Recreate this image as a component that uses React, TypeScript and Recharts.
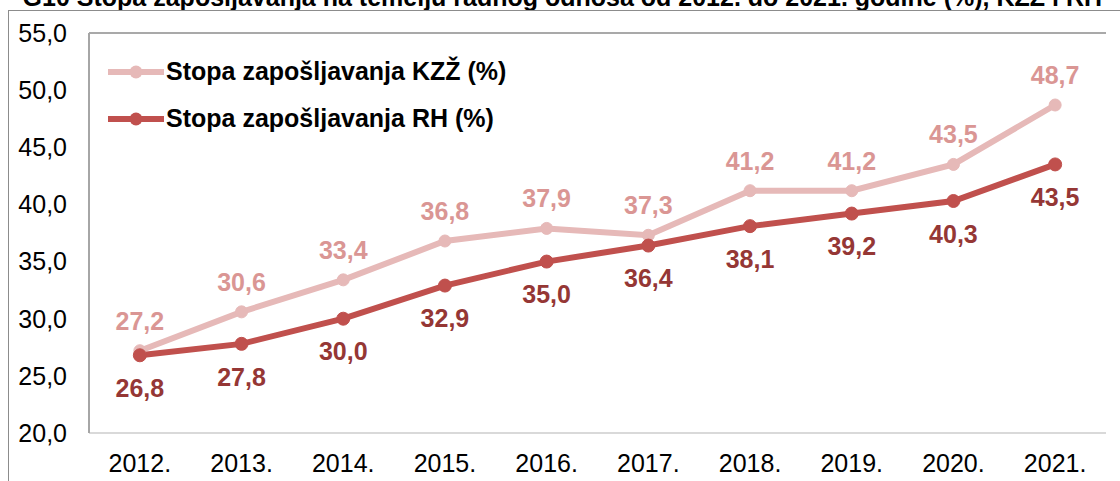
import { CartesianGrid, LabelList, Line, LineChart, XAxis, YAxis } from "recharts";

const years = ["2012.", "2013.", "2014.", "2015.", "2016.", "2017.", "2018.", "2019.", "2020.", "2021."];
const kzz = [27.2, 30.6, 33.4, 36.8, 37.9, 37.3, 41.2, 41.2, 43.5, 48.7];
const rh = [26.8, 27.8, 30.0, 32.9, 35.0, 36.4, 38.1, 39.2, 40.3, 43.5];
const yTicks = [20, 25, 30, 35, 40, 45, 50, 55];

const KZZ_NAME = "Stopa zapošljavanja KZŽ (%)";
const RH_NAME = "Stopa zapošljavanja RH (%)";
const TITLE = "G10 Stopa zapošljavanja na temelju radnog odnosa od 2012. do 2021. godine (%), KZŽ i RH";

const FONT = '"Liberation Sans", Arial, sans-serif';
const FS = 25;
const KZZ_LINE = "#E6B9B8";
const KZZ_LABEL = "#DA9694";
const RH_LINE = "#C0504D";
const RH_LABEL = "#953735";

const data = years.map((year, i) => ({ year, kzz: kzz[i], rh: rh[i] }));

const comma = (v: number) => Number(v).toFixed(1).replace(".", ",");

function LegendRows() {
  const rows = [
    { name: KZZ_NAME, color: KZZ_LINE },
    { name: RH_NAME, color: RH_LINE },
  ];
  return (
    <div style={{ position: "absolute", left: 108, top: 48, fontFamily: FONT }}>
      {rows.map((r) => (
        <div key={r.name} style={{ display: "flex", alignItems: "center", height: 47 }}>
          <svg width={58} height={14}>
            <line x1={0} y1={7} x2={56} y2={7} stroke={r.color} strokeWidth={6} />
            <circle cx={28} cy={7} r={6.5} fill={r.color} />
          </svg>
          <span style={{ fontSize: FS, fontWeight: 700, color: "#000", whiteSpace: "nowrap" }}>{r.name}</span>
        </div>
      ))}
    </div>
  );
}

export default function App() {
  return (
    <div style={{ position: "absolute", left: 0, top: 0, width: 1120, height: 481, overflow: "hidden", background: "#fff" }}>
      <div
        style={{
          position: "absolute",
          right: 18,
          top: -17,
          whiteSpace: "nowrap",
          fontFamily: FONT,
          fontSize: FS,
          fontWeight: 700,
          color: "#000",
        }}
      >
        {TITLE}
      </div>
      <div
        style={{
          position: "absolute",
          left: 8,
          top: 10,
          width: 1200,
          height: 600,
          border: "1px solid #8c8c8c",
        }}
      />
      <div style={{ position: "absolute", left: 0, top: 0 }}>
        <LineChart width={1120} height={481} data={data} margin={{ top: 33, right: 14, bottom: 0, left: 10 }}>
          <CartesianGrid vertical={false} stroke="#8c8c8c" strokeWidth={1.3} />
          <XAxis
            dataKey="year"
            scale="band"
            height={48}
            tickLine={false}
            tickMargin={15}
            axisLine={{ stroke: "#d9d9d9", strokeWidth: 2 }}
            tick={{ fontSize: FS, fill: "#000", fontFamily: FONT }}
            interval={0}
          />
          <YAxis
            yAxisId="l"
            width={79}
            domain={[20, 55]}
            ticks={yTicks}
            tickFormatter={comma}
            tickLine={false}
            tickMargin={16}
            axisLine={{ stroke: "#a6a6a6", strokeWidth: 2 }}
            tick={{ fontSize: FS, fill: "#000", fontFamily: FONT }}
            allowDataOverflow
          />
          <YAxis
            yAxisId="r"
            orientation="right"
            width={0}
            domain={[20, 55]}
            tick={false}
            tickLine={false}
            axisLine={{ stroke: "#8c8c8c", strokeWidth: 2 }}
          />
          <Line
            yAxisId="l"
            dataKey="kzz"
            name={KZZ_NAME}
            stroke={KZZ_LINE}
            strokeWidth={6}
            dot={{ r: 6, fill: KZZ_LINE, stroke: KZZ_LINE, strokeWidth: 1 }}
            isAnimationActive={false}
          >
            <LabelList
              dataKey="kzz"
              position="top"
              offset={21}
              formatter={(v: number) => comma(v)}
              fill={KZZ_LABEL}
              fontSize={FS}
              fontWeight={700}
              fontFamily={FONT}
            />
          </Line>
          <Line
            yAxisId="l"
            dataKey="rh"
            name={RH_NAME}
            stroke={RH_LINE}
            strokeWidth={6}
            dot={{ r: 6.5, fill: RH_LINE, stroke: RH_LINE, strokeWidth: 1 }}
            isAnimationActive={false}
          >
            <LabelList
              dataKey="rh"
              position="bottom"
              offset={24}
              formatter={(v: number) => comma(v)}
              fill={RH_LABEL}
              fontSize={FS}
              fontWeight={700}
              fontFamily={FONT}
            />
          </Line>
        </LineChart>
      </div>
      <LegendRows />
    </div>
  );
}
